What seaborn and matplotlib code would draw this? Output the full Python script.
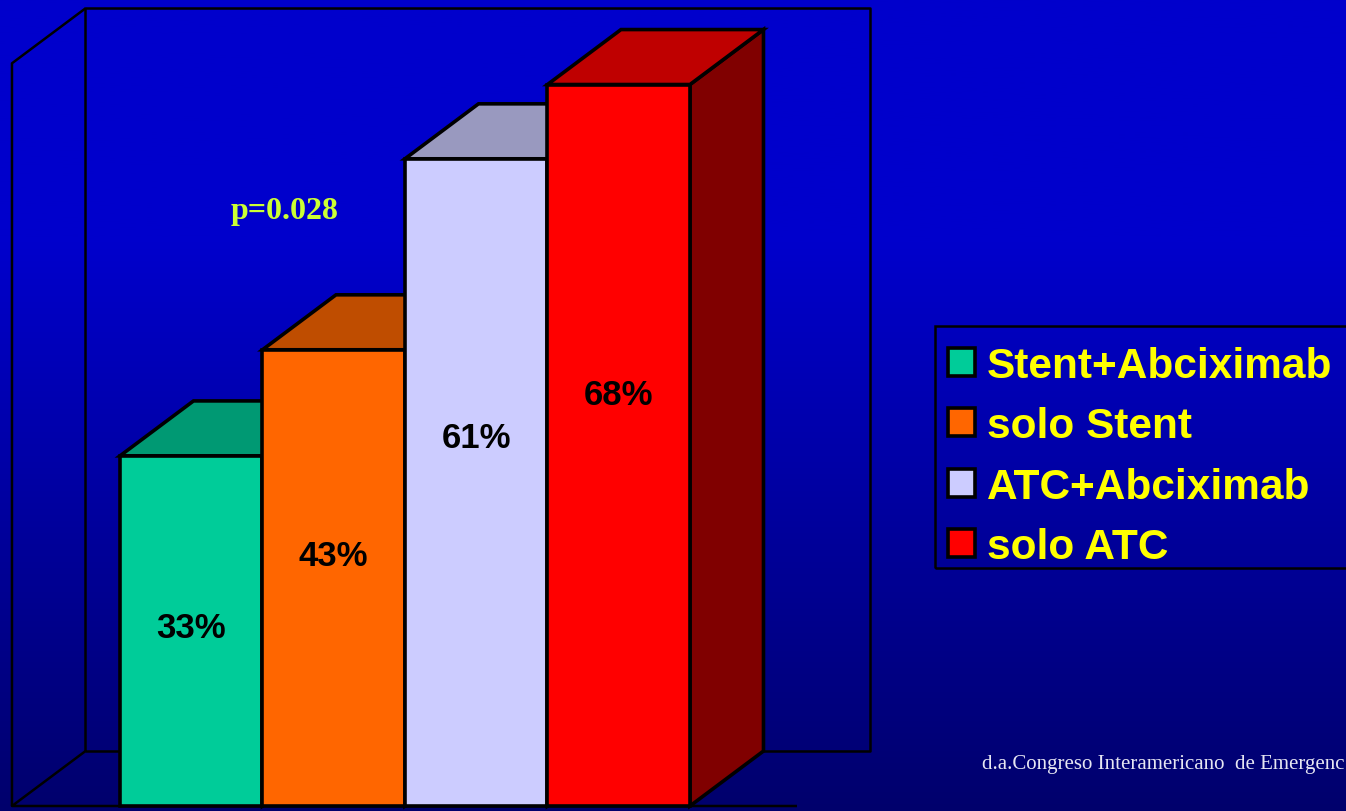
import numpy as np
import matplotlib
matplotlib.use("Agg")
import matplotlib.pyplot as plt
from matplotlib.patches import Polygon, Patch, Rectangle
from matplotlib.colors import to_rgb
import seaborn as sns

# ---- data ----
categories = ["Stent+Abciximab", "solo Stent", "ATC+Abciximab", "solo ATC"]
values = [33, 43, 61, 68]
bar_colors = ["#00CC99", "#FF6600", "#CCCCFF", "#FF0000"]
p_value_text = "p=0.028"
source_text = "d.a.Congreso Interamericano  de Emergenc"

# ---- layout ----
W, H, DPI = 1346, 812, 100
label_y_frac = [0.51, 0.55, 0.57, 0.57]   # vertical placement of value labels inside bars
depth_x, depth_y = 0.516, 5.18            # 3-D extrusion in data units
wall_left, wall_right, wall_top = -1.258, 4.251, 70

sns.set_theme(style="white")
plt.rcParams["font.family"] = ["Liberation Sans", "DejaVu Sans"]

fig = plt.figure(figsize=(W / DPI, H / DPI), dpi=DPI)

# background gradient
bg = fig.add_axes([0, 0, 1, 1], zorder=-10)
t = np.linspace(0, 1, 400)
blue = np.where(t < 0.3, 204, 204 - (t - 0.3) / 0.7 * 96) / 255.0
grad = np.zeros((400, 1, 3))
grad[:, 0, 2] = blue
bg.imshow(grad, aspect="auto", extent=[0, 1, 0, 1], origin="upper")
bg.set_axis_off()

ax = fig.add_axes([0, 0, 1, 1])
ax.set_facecolor("none")

sns.barplot(x=categories, y=values, hue=categories, palette=bar_colors,
            width=1.0, saturation=1, legend=False, ax=ax,
            edgecolor="black", linewidth=2.6)

ax.set_xlim(-1.342, 8.104)
ax.set_ylim(-0.471, 76.06)
ax.set_axis_off()

# walls of the chart box
wall_kw = dict(color="black", lw=1.8, zorder=1, solid_capstyle="butt")
bx0, bx1 = wall_left + depth_x, wall_right + depth_x
ax.plot([bx0, bx1, bx1, bx0, bx0], [depth_y, depth_y, wall_top + depth_y, wall_top + depth_y, depth_y], **wall_kw)
ax.plot([wall_left, wall_left, bx0], [0, wall_top, wall_top + depth_y], **wall_kw)
ax.plot([bx0, wall_left, wall_right], [depth_y, 0, 0], **wall_kw)

# extrude each bar into a box
for i, bar in enumerate(ax.patches):
    x, w, h = bar.get_x(), bar.get_width(), bar.get_height()
    base = np.array(to_rgb(bar.get_facecolor()))
    top = Polygon([(x, h), (x + w, h), (x + w + depth_x, h + depth_y), (x + depth_x, h + depth_y)],
                  closed=True, facecolor=base * 0.75, edgecolor="black", lw=2.6,
                  joinstyle="miter", zorder=10 + 2 * i)
    side = Polygon([(x + w, 0), (x + w, h), (x + w + depth_x, h + depth_y), (x + w + depth_x, depth_y)],
                   closed=True, facecolor=base * 0.5, edgecolor="black", lw=2.6,
                   joinstyle="miter", zorder=10 + 2 * i)
    ax.add_patch(side)
    ax.add_patch(top)
    bar.set_zorder(11 + 2 * i)
    bar.set_joinstyle("miter")
    ax.text(x + w / 2, values[i] * label_y_frac[i], f"{values[i]}%",
            ha="center", va="center", fontsize=25, fontweight="bold",
            color="black", zorder=30)

# annotations
fig.text(285 / W, 1 - 212 / H, p_value_text, ha="center", va="center",
         fontsize=23, fontweight="bold", color="#CCFF33",
         family=["Liberation Serif", "DejaVu Serif"])
fig.text(982 / W, 1 - 765 / H, source_text, ha="left", va="center",
         fontsize=15, color="#E6E6F2", family=["Liberation Serif", "DejaVu Serif"])

# legend box and entries
fig.patches.append(Rectangle((935 / W, 1 - 569 / H), (1350 - 935) / W, 242 / H,
                             transform=fig.transFigure, facecolor="none",
                             edgecolor="black", linewidth=1.8))
handles = [Patch(facecolor=c, edgecolor="black", linewidth=2.6, label=n)
           for c, n in zip(bar_colors, categories)]
leg = fig.legend(handles=handles, loc="upper left",
                 bbox_to_anchor=(928 / W, 1 - 327 / H),
                 prop={"family": "Liberation Sans", "weight": "bold", "size": 30.5},
                 labelcolor="#FFFF00", frameon=False,
                 handlelength=0.64, handleheight=0.64, handletextpad=0.28,
                 labelspacing=0.48, borderpad=0.47, borderaxespad=0)

fig.savefig("out.png", dpi=DPI)
